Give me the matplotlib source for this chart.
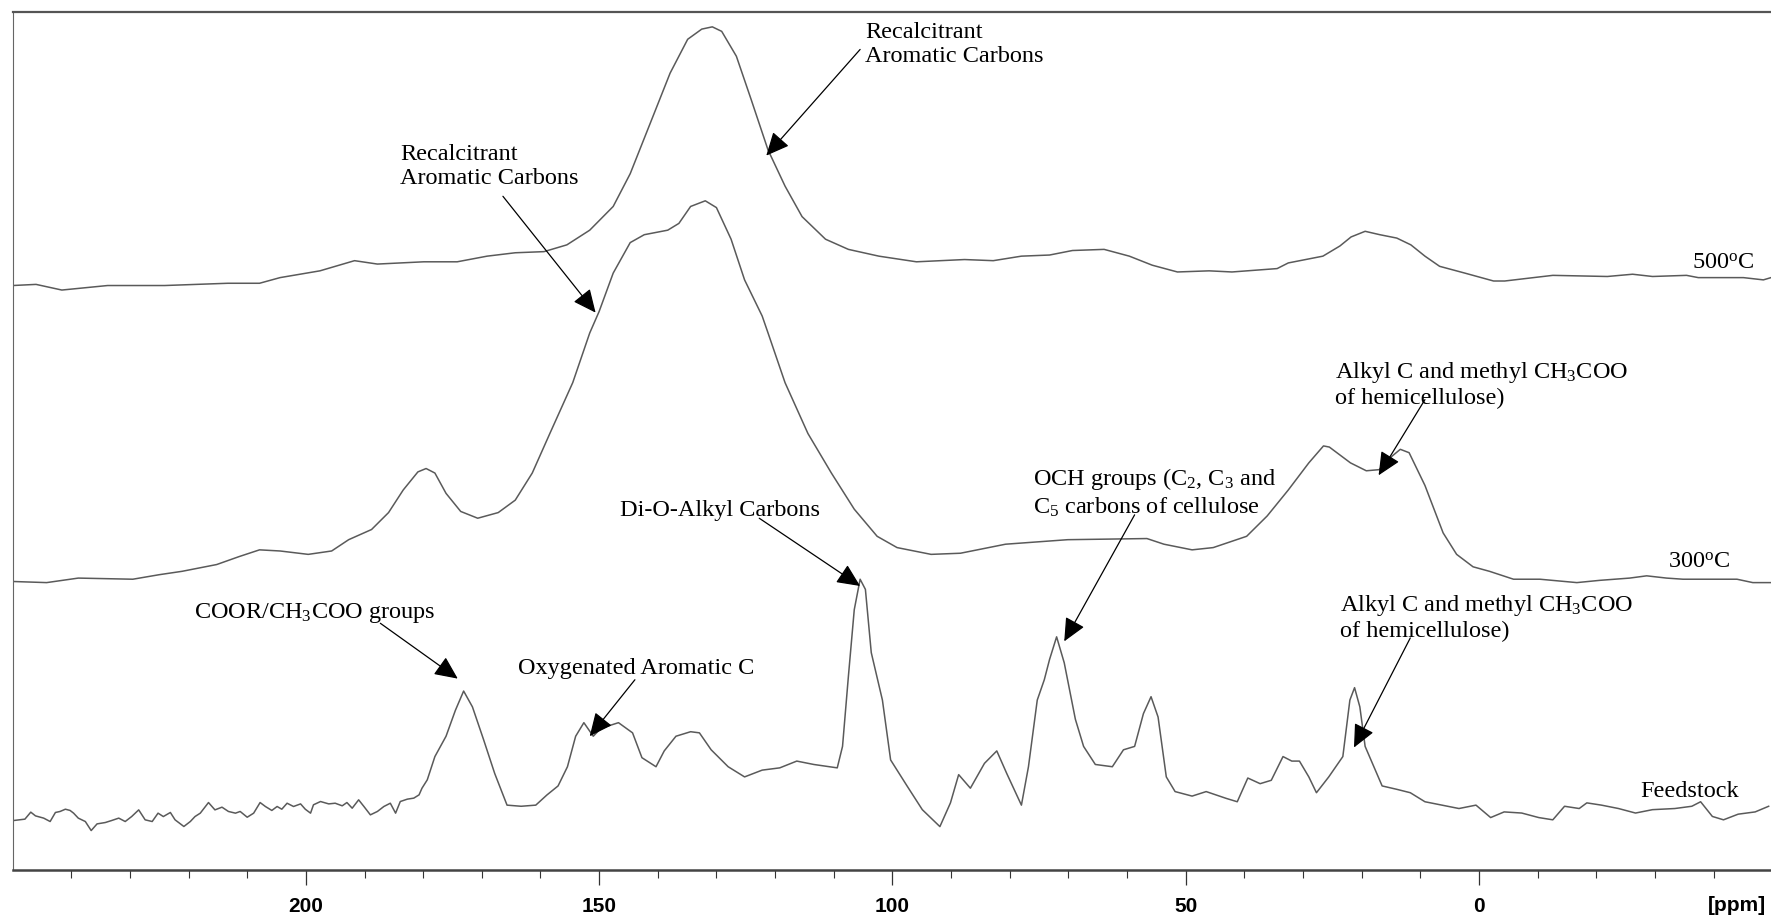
import matplotlib
matplotlib.use('Agg')
import matplotlib.pyplot as plt

# chemical shift (ppm) and intensity above each trace's own baseline (arb. units)
ppm_500 = [250.0, 246.0, 241.6, 233.8, 224.1, 213.3, 207.9, 204.4, 197.6, 191.7, 187.8, 179.9,
           174.2, 169.1, 164.3, 159.4, 155.5, 151.6, 147.6, 144.7, 140.8, 137.9, 134.9, 132.5,
           130.7, 129.1, 126.6, 124.1, 121.2, 118.3, 115.4, 111.4, 107.5, 102.3, 95.9, 87.7,
           82.8, 78.0, 73.2, 69.3, 63.9, 59.6, 55.7, 51.4, 46.0, 42.1, 34.4, 32.5, 26.6, 23.7,
           21.8, 19.4, 16.9, 14.0, 11.6, 9.2, 6.7, 2.4, -2.5, -4.4, -9.3, -12.6, -21.9, -26.2,
           -29.6, -35.4, -37.4, -45.1, -48.5, -49.8]
int_500 = [0, 1, -4, 0, 0, 2, 2, 7, 13, 22, 19, 21,
           21, 26, 29, 30, 36, 49, 70, 99, 150, 188, 218, 227,
           229, 225, 203, 165, 120, 88, 61, 41, 32, 26, 21, 23,
           22, 26, 27, 31, 32, 26, 18, 12, 13, 12, 15, 20, 26, 35,
           43, 48, 45, 42, 36, 26, 17, 11, 4, 4, 7, 9, 8, 10,
           8, 9, 7, 7, 5, 7]

ppm_300 = [250.0, 244.2, 238.8, 229.5, 225.0, 221.1, 215.2, 211.4, 207.9, 204.4, 199.6, 195.6,
           192.7, 188.8, 185.9, 183.4, 180.9, 179.5, 178.0, 176.1, 173.6, 170.7, 167.2, 164.3,
           161.4, 158.4, 154.5, 151.6, 150.0, 147.6, 144.7, 142.3, 138.3, 136.4, 134.4, 131.9,
           130.0, 127.5, 125.2, 122.2, 121.2, 118.3, 114.4, 110.4, 106.5, 102.6, 99.2, 93.4,
           88.4, 80.7, 70.1, 56.6, 53.7, 48.9, 45.3, 39.6, 36.1, 32.5, 29.0, 26.5, 25.5, 21.9,
           19.2, 17.0, 14.8, 13.4, 11.9, 9.2, 6.1, 3.8, 1.0, -1.8, -5.9, -10.4, -16.7, -20.6,
           -25.7, -28.6, -32.0, -34.8, -44.0, -46.7, -49.8]
int_300 = [0, -1, 3, 2, 6, 9, 15, 22, 28, 27, 24, 27,
           37, 46, 61, 81, 97, 100, 96, 78, 62, 56, 61, 72,
           96, 131, 176, 220, 239, 273, 300, 307, 311, 317, 332, 337,
           331, 303, 267, 235, 220, 176, 131, 96, 64, 40, 30, 24,
           25, 33, 37, 38, 33, 28, 30, 40, 58, 81, 105, 120, 119, 105,
           98, 99, 111, 117, 114, 85, 43, 24, 13, 9, 2, 2, -1, 1,
           3, 5, 3, 2, 2, -1, -1]

ppm_feed = [249.8, 247.9, 246.9, 246.1, 244.7, 243.6, 242.7, 241.9, 241.0, 240.2, 239.6, 238.8,
            237.6, 236.6, 235.6, 234.2, 233.1, 231.9, 230.8, 229.7, 228.5, 227.4, 226.2, 225.2,
            224.3, 223.1, 222.3, 220.8, 219.7, 218.9, 218.0, 216.6, 215.5, 214.3, 213.2, 212.0,
            211.2, 210.0, 208.9, 207.8, 206.9, 205.8, 204.9, 204.1, 203.2, 202.1, 200.9, 200.1,
            199.2, 198.7, 197.5, 196.1, 195.0, 193.8, 193.0, 192.1, 191.0, 190.1, 189.0, 187.8,
            186.7, 185.6, 184.7, 183.9, 182.7, 181.6, 180.7, 180.2, 179.3,
            178.0, 176.1, 174.5, 173.1, 171.6, 169.7,
            167.8, 165.7, 163.3, 160.8, 158.9, 157.0, 155.4, 154.0, 152.6, 151.0, 149.7, 146.7,
            144.3, 142.7, 140.3, 138.9, 136.9, 134.4, 132.9, 130.9, 128.0, 125.2, 122.2, 119.2,
            116.3, 113.4, 109.4, 108.5, 107.5, 106.5, 105.5, 104.6, 103.6, 101.7, 100.3, 97.5,
            94.9, 91.9, 90.1, 88.7, 86.7, 84.3, 82.2, 80.5, 78.0, 76.8, 75.3, 74.1, 73.2, 72.0,
            70.7, 68.8, 67.4, 65.4, 62.5, 60.6, 58.7, 57.2, 55.9, 54.7, 53.3, 51.8, 48.9, 46.5,
            43.1, 41.2, 39.4, 37.3, 35.4, 33.4, 31.9, 30.6, 29.0, 27.7, 25.6, 23.2, 22.0, 21.2,
            20.3, 19.4, 17.9, 16.5, 14.0, 11.7, 9.2, 6.3, 3.4, 0.5, -2.0, -4.3, -7.3, -10.2,
            -12.6, -14.6, -17.1, -18.4, -20.9, -23.8, -26.7, -29.6, -33.4, -36.3, -37.8, -39.8,
            -41.7, -44.2, -47.1, -49.4]
int_feed = [-6.6, -5.4, 0.8, -2.5, -4.5, -7.5, 0.5, 1.4, 3.4, 2.3, -0.1, -4.5,
            -7.5, -15.5, -9.6, -8.4, -6.6, -4.5, -7.5, -3.1, 2.8, -6.0, -7.5, -0.1,
            -3.1, 0.5, -6.0, -11.9, -7.5, -3.1, -0.1, 9.3, 2.8, 5.2, 1.4, -0.1,
            1.4, -3.7, -0.1, 9.3, 5.8, 2.3, 5.8, 3.4, 8.7, 5.8, 8.1, 3.4,
            -0.1, 7.3, 10.2, 8.1, 8.7, 6.4, 9.3, 4.3, 11.7, 5.8, -1.6, 1.4,
            5.8, 8.7, -0.1, 10.2, 12.3, 13.2, 16.1, 22.0, 29.4,
            50, 68, 91, 108, 94, 65,
            35, 7, 6, 7, 16, 24, 41, 68, 80, 68, 75, 80,
            71, 49, 41, 55, 68, 72, 71, 56, 41, 32, 38, 40,
            46, 43, 40, 59, 121, 180, 207, 198, 142, 100, 47, 24,
            3, -12, 9, 34, 22, 44, 55, 35, 7, 41, 100, 118, 136, 156,
            133, 83, 59, 43, 41, 56, 59, 88, 103, 85, 32, 19, 15, 19,
            13, 10, 31, 26, 29, 50, 46, 46, 32, 18, 32, 50, 100, 111,
            94, 59, 41, 24, 21, 18, 10, 7, 4, 7, -4, 1, 0, -4,
            -6, 6, 4, 9, 7, 4, 0, 3, 4, 6, 10, -3,
            -6, -1, 1, 6]

plt.rcParams['font.family'] = ['Liberation Serif', 'DejaVu Serif']
plt.rcParams['mathtext.fontset'] = 'custom'
plt.rcParams['mathtext.rm'] = 'Liberation Serif'
plt.rcParams['mathtext.it'] = 'Liberation Serif:italic'

fig = plt.figure(figsize=(17.71, 9.15), dpi=100)
ax = fig.add_axes([0.00711, 0.0497, 0.99289, 0.9375])

line_col = '#5a5a5a'
ax.plot(ppm_500, [517 + v for v in int_500], color=line_col, lw=1.1)
ax.plot(ppm_300, [255 + v for v in int_300], color=line_col, lw=1.1)
ax.plot(ppm_feed, [50 + v for v in int_feed], color=line_col, lw=1.1)

ax.set_xlim(250, -49.8)
ax.set_ylim(0, 759.4)

fs = 17.5
# trace labels
ax.text(-46.9, 537, r'500$^{\rm o}$C', ha='right', va='center', fontsize=fs)
ax.text(-42.9, 272, r'300$^{\rm o}$C', ha='right', va='center', fontsize=fs)
ax.text(-44.4, 69, 'Feedstock', ha='right', va='center', fontsize=fs)

# (text, text anchor, va, arrow tail, arrow tip)
notes = [
    ('Recalcitrant\nAromatic Carbons', (104.6, 750), 'top', (105.5, 726), (121.5, 632)),
    ('Recalcitrant\nAromatic Carbons', (183.9, 642), 'top', (166.4, 596), (150.6, 493)),
    ('Di-O-Alkyl Carbons', (146.4, 318), 'center', (122.7, 311), (105.5, 251)),
    ('OCH groups (C$_2$, C$_3$ and\nC$_5$ carbons of cellulose', (76.0, 357), 'top', (58.7, 314), (70.7, 202)),
    ('Alkyl C and methyl CH$_3$COO\nof hemicellulose)', (24.6, 451), 'top', (9.2, 416), (17.1, 349)),
    ('Alkyl C and methyl CH$_3$COO\nof hemicellulose)', (23.7, 245), 'top', (11.7, 205), (21.3, 108)),
    ('COOR/CH$_3$COO groups', (219.1, 227), 'center', (187.3, 218), (174.1, 169)),
    ('Oxygenated Aromatic C', (163.8, 178), 'center', (143.9, 168), (151.6, 118)),
]
for txt, pos, va, tail, tip in notes:
    ax.text(pos[0], pos[1], txt, ha='left', va=va, fontsize=fs, linespacing=1.18)
    ax.annotate('', xy=tip, xytext=tail,
                arrowprops=dict(arrowstyle='-|>,head_length=0.65,head_width=0.3',
                                color='black', lw=0.9, shrinkA=0, shrinkB=0,
                                mutation_scale=22))

# spines / ticks
ax.spines['right'].set_visible(False)
ax.spines['top'].set_color('#555555')
ax.spines['top'].set_linewidth(1.6)
ax.spines['left'].set_color('#666666')
ax.spines['left'].set_linewidth(0.8)
ax.spines['bottom'].set_color('#444444')
ax.spines['bottom'].set_linewidth(1.8)
ax.set_yticks([])
ax.set_xticks([200, 150, 100, 50, 0])
ax.set_xticks(list(range(240, -50, -10)), minor=True)
ax.tick_params(axis='x', which='major', direction='out', length=11, width=0.9,
               color='#333333', pad=8.5, labelsize=15)
ax.tick_params(axis='x', which='minor', direction='out', length=6, width=0.8,
               color='#333333')
for lab in ax.get_xticklabels():
    lab.set_fontfamily(['Liberation Sans', 'DejaVu Sans'])
    lab.set_fontweight('bold')
ax.text(-44.0, -0.0425, '[ppm]', transform=ax.get_xaxis_transform(), ha='center', va='center',
        fontsize=15, fontweight='bold', family=['Liberation Sans', 'DejaVu Sans'])

fig.savefig('out.png', dpi=100)
